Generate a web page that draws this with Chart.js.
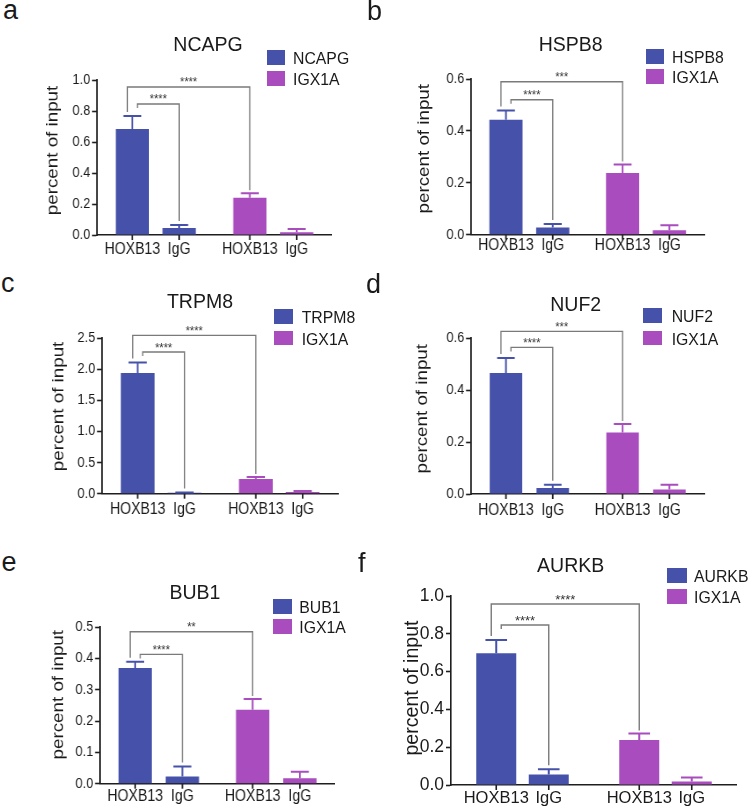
<!DOCTYPE html>
<html>
<head>
<meta charset="utf-8">
<script src="https://cdn.jsdelivr.net/npm/chart.js@4.4.1/dist/chart.umd.min.js"></script>
<style>
  html, body { margin: 0; padding: 0; background: #fff; }
  body { width: 748px; height: 812px; position: relative; overflow: hidden;
         font-family: "Liberation Sans", Arial, Helvetica, sans-serif; color: #1a1a1a; }
  .txt { position: absolute; line-height: 1; white-space: nowrap; }
  .box { position: absolute; }
  canvas { position: absolute; transform-origin: 0 0; }
</style>
</head>
<body>
<script>
// ---------------- DATA ----------------
const genes = ['NCAPG', 'HSPB8', 'TRPM8', 'NUF2', 'BUB1', 'AURKB'];
const controlRegion = 'IGX1A';
const antibodies = ['HOXB13', 'IgG'];

// percent of input, HOXB13 / IgG ChIP at each gene promoter and at IGX1A
const hoxb13AtGene    = [0.684, 0.443, 1.938, 0.465, 0.369, 0.697];
const hoxb13AtGeneErr = [0.084, 0.036, 0.170, 0.058, 0.020, 0.070];
const iggAtGene       = [0.045, 0.028, 0.015, 0.023, 0.023, 0.056];
const iggAtGeneErr    = [0.020, 0.013, 0.006, 0.013, 0.032, 0.027];
const hoxb13AtIgx     = [0.240, 0.238, 0.236, 0.237, 0.236, 0.238];
const hoxb13AtIgxErr  = [0.030, 0.033, 0.032, 0.032, 0.034, 0.035];
const iggAtIgx        = [0.017, 0.017, 0.027, 0.017, 0.017, 0.018];
const iggAtIgxErr     = [0.021, 0.019, 0.016, 0.019, 0.021, 0.022];

const yMax  = [1.0, 0.6, 2.5, 0.6, 0.5, 1.0];
const yStep = [0.2, 0.2, 0.5, 0.2, 0.1, 0.2];

const sigHoxVsIgg  = ['****', '****', '****', '****', '****', '****'];
const sigGeneVsIgx = ['****', '***', '****', '***', '**', '****'];

const panelLetters = ['a', 'b', 'c', 'd', 'e', 'f'];
const yTitle = 'percent of input';

// ---------------- STYLE / LAYOUT ----------------
const FONT = "'Liberation Sans', Arial, Helvetica, sans-serif";
const BLUE = '#4652AA';
const PURPLE = '#A84CBE';
const groupColors = [BLUE, PURPLE];
const AXIS = '#1e1e1e';
const BRACKET = '#7a7a7a';

// page-pixel layout of each panel; k = horizontal squeeze of the panel's drawing
const panels = [
  { x0: 97,    x1: 332,   y0: 80,    y1: 235,   tdx: 44,   tcy: 150.5, lx: 3,   lb: 19.5,  tcx: 208,   tb: 51.7,  gx: 266.7, gy: 50,    gy2: 71,    gtx: 293,   lab: 19,   inner: 12,   outer: 29,   k: 0.88, tick: 14.5, xl: 16,   yt: 18.8, sp: 46.8, bw: 33.2 },
  { x0: 470.7, x1: 704,   y0: 79.3,  y1: 235,   tdx: 46.7, tcy: 149,   lx: 367, lb: 21,    tcx: 570.7, tb: 51.7,  gx: 645.7, gy: 49,    gy2: 69,    gtx: 672,   lab: 15.5, inner: 10.7, outer: 28.7, k: 0.88, tick: 14.5, xl: 16,   yt: 18.8, sp: 46.8, bw: 33.2 },
  { x0: 101.7, x1: 338,   y0: 338.3, y1: 494,   tdx: 43.4, tcy: 406.7, lx: 1,   lb: 292.7, tcx: 200,   tb: 309,   gx: 274,   gy: 309.3, gy2: 330.7, gtx: 301.7, lab: 20.5, inner: 10.4, outer: 27,   k: 0.88, tick: 14.5, xl: 16,   yt: 18.8, sp: 46.8, bw: 33.8 },
  { x0: 470.7, x1: 704,   y0: 338.3, y1: 494.3, tdx: 48.4, tcy: 409,   lx: 366, lb: 293.5, tcx: 575.7, tb: 311.7, gx: 643.3, gy: 308.3, gy2: 330.7, gtx: 671.7, lab: 20.5, inner: 10.6, outer: 26.6, k: 0.88, tick: 14.5, xl: 16,   yt: 18.8, sp: 46.8, bw: 32.5 },
  { x0: 100,   x1: 335,   y0: 627.3, y1: 784,   tdx: 41.7, tcy: 695,   lx: 1.5, lb: 571.7, tcx: 195,   tb: 600,   gx: 273.3, gy: 599.3, gy2: 619.3, gtx: 299.3, lab: 17.7, inner: 7.4,  outer: 30,   k: 0.88, tick: 14.5, xl: 16,   yt: 18.8, sp: 47.2, bw: 33.3 },
  { x0: 451.3, x1: 737.3, y0: 596,   y1: 785,   tdx: 38,   tcy: 688,   lx: 358, lb: 573,   tcx: 570.7, tb: 572.3, gx: 666.7, gy: 568.3, gy2: 589.3, gtx: 694,   lab: 18,   inner: 15,   outer: 36,   k: 1.0,  tick: 17.5, xl: 16.5, yt: 19.6, sp: 52.5, bw: 40 }
];

// ---------------- HELPERS ----------------
function addText(str, x, baseline, size, opts = {}) {
  const d = document.createElement('div');
  d.className = 'txt';
  d.textContent = str;
  d.style.fontSize = size + 'px';
  d.style.top = (baseline - 0.8465 * size) + 'px';
  d.style.left = x + 'px';
  if (opts.center) d.style.transform = 'translateX(-50%)';
  document.body.appendChild(d);
}
function addBox(x, y, w, h, color) {
  const d = document.createElement('div');
  d.className = 'box';
  Object.assign(d.style, { left: x + 'px', top: y + 'px', width: w + 'px', height: h + 'px', background: color });
  document.body.appendChild(d);
}

const annotPlugin = {
  id: 'annot',
  afterDatasetsDraw(chart, args, o) {
    const i = o.index, P = o.layout, k = P.k;
    const ctx = chart.ctx, ys = chart.scales.y, area = chart.chartArea;
    const errs = [[hoxb13AtGeneErr[i], hoxb13AtIgxErr[i]], [iggAtGeneErr[i], iggAtIgxErr[i]]];
    const bars = [];
    ctx.save();
    // y axis title
    ctx.save();
    ctx.translate(o.titleX, o.titleY);
    ctx.rotate(-Math.PI / 2);
    ctx.fillStyle = '#1a1a1a';
    ctx.font = P.yt + 'px ' + FONT;
    ctx.textAlign = 'center';
    ctx.textBaseline = 'middle';
    ctx.fillText(yTitle, 0, 0);
    ctx.restore();
    // error bars (upper only)
    for (let di = 0; di < 2; di++) {
      const meta = chart.getDatasetMeta(di);
      meta.data.forEach((bar, g) => {
        const p = bar.getProps(['x', 'y', 'width', 'base'], true);
        const v = chart.data.datasets[di].data[g];
        const top = ys.getPixelForValue(v + errs[di][g]);
        bars.push({ di, g, x: p.x, y: p.y, w: p.width, top });
        ctx.strokeStyle = groupColors[g];
        ctx.lineWidth = 2;
        ctx.beginPath();
        ctx.moveTo(p.x, p.y);
        ctx.lineTo(p.x, top);
        ctx.moveTo(p.x - p.width * 0.27, top);
        ctx.lineTo(p.x + p.width * 0.27, top);
        ctx.stroke();
      });
    }
    // x tick marks and labels under every bar
    ctx.strokeStyle = AXIS;
    ctx.lineWidth = 1.6 / k;
    ctx.fillStyle = '#1a1a1a';
    ctx.font = P.xl + 'px ' + FONT;
    ctx.textAlign = 'center';
    ctx.textBaseline = 'alphabetic';
    bars.forEach(b => {
      ctx.beginPath();
      ctx.moveTo(b.x, area.bottom);
      ctx.lineTo(b.x, area.bottom + 5);
      ctx.stroke();
      ctx.fillText(antibodies[b.di], b.x, area.bottom + P.lab);
    });
    // significance brackets
    const find = (di, g) => bars.find(b => b.di === di && b.g === g);
    const b1 = find(0, 0), b2 = find(1, 0), b3 = find(0, 1);
    const dx = 5 / k;
    ctx.strokeStyle = BRACKET;
    ctx.lineWidth = 1.4;
    ctx.fillStyle = '#333';
    ctx.font = (P.k < 1 ? 12.5 : 13) + 'px ' + FONT;
    const yi = b1.top - P.inner, yo = b1.top - P.outer;
    // inner: HOXB13 vs IgG at the gene
    ctx.beginPath();
    ctx.moveTo(b1.x + dx, yi + 4);
    ctx.lineTo(b1.x + dx, yi);
    ctx.lineTo(b2.x, yi);
    ctx.lineTo(b2.x, b2.top - 4);
    ctx.stroke();
    ctx.fillText(sigHoxVsIgg[i], (b1.x + dx + b2.x) / 2, yi - 0.5);
    // outer: gene vs IGX1A
    ctx.beginPath();
    ctx.moveTo(b1.x - dx, b1.top - 4);
    ctx.lineTo(b1.x - dx, yo);
    ctx.lineTo(b3.x, yo);
    ctx.lineTo(b3.x, b3.top - 3);
    ctx.stroke();
    ctx.fillText(sigGeneVsIgx[i], (b1.x - dx + b3.x) / 2, yo - 0.5);
    ctx.restore();
  }
};

// ---------------- BUILD PANELS ----------------
panels.forEach((P, i) => {
  const k = P.k;
  const padL = 80, padT = 45, padR = 6, padB = 32;
  const cx = P.x0 - padL, cy = P.y0 - padT;
  const cwPage = P.x1 + padR - cx;
  const cw = Math.round(cwPage / k), ch = Math.round(P.y1 + padB - cy);
  const canvas = document.createElement('canvas');
  canvas.width = cw; canvas.height = ch;
  canvas.style.left = cx + 'px'; canvas.style.top = cy + 'px';
  canvas.style.width = cw + 'px'; canvas.style.height = ch + 'px';
  canvas.style.transform = 'scaleX(' + k + ')';
  document.body.appendChild(canvas);

  const areaLeft = padL / k, areaRight = (P.x1 - cx) / k;
  const titleX = (padL - P.tdx) / k;
  const titleY = P.tcy - cy;
  const leftPad = 2;
  const catW = (P.x1 - P.x0) / 2;

  new Chart(canvas, {
    type: 'bar',
    data: {
      labels: [genes[i], controlRegion],
      datasets: antibodies.map((ab, di) => ({
        label: ab,
        data: di === 0 ? [hoxb13AtGene[i], hoxb13AtIgx[i]] : [iggAtGene[i], iggAtIgx[i]],
        backgroundColor: groupColors,
        borderWidth: 0,
        categoryPercentage: 2 * P.sp / catW,
        barPercentage: P.bw / P.sp
      }))
    },
    options: {
      responsive: false,
      animation: false,
      devicePixelRatio: 1,
      layout: { padding: { left: leftPad, top: padT, right: cw - areaRight, bottom: 0 } },
      plugins: {
        legend: { display: false },
        tooltip: { enabled: false },
        annot: { index: i, layout: P, titleX, titleY }
      },
      scales: {
        x: {
          type: 'category',
          offset: true,
          grid: { display: false },
          border: { display: true, color: AXIS, width: 1.6 },
          ticks: { display: false },
          afterFit: sc => { sc.height = ch - (P.y1 - cy); }
        },
        y: {
          min: 0,
          max: yMax[i],
          border: { display: true, color: AXIS, width: 1.6 / k },
          grid: { display: true, drawOnChartArea: false, drawTicks: true, tickLength: 5 / k, tickColor: AXIS, tickWidth: 1.6 },
          ticks: {
            stepSize: yStep[i],
            padding: 2,
            color: '#1a1a1a',
            font: { family: FONT, size: P.tick },
            callback: v => Number(v).toFixed(1)
          },
          title: { display: false },
          afterFit: sc => { sc.width = areaLeft - leftPad; }
        }
      }
    },
    plugins: [annotPlugin]
  });

  // panel letter, title and legend as real text
  addText(panelLetters[i], P.lx, P.lb, 27);
  addText(genes[i], P.tcx, P.tb, 19.5, { center: true });
  const bw = k < 1 ? 18.5 : 20.6, bh = 14.5;
  const legendNames = [genes[i], controlRegion];
  [P.gy, P.gy2].forEach((gy, g) => {
    addBox(P.gx, gy, bw, bh, groupColors[g]);
    addText(legendNames[g], P.gtx, gy + bh - 0.3, 15.8);
  });
});
</script>
</body>
</html>
